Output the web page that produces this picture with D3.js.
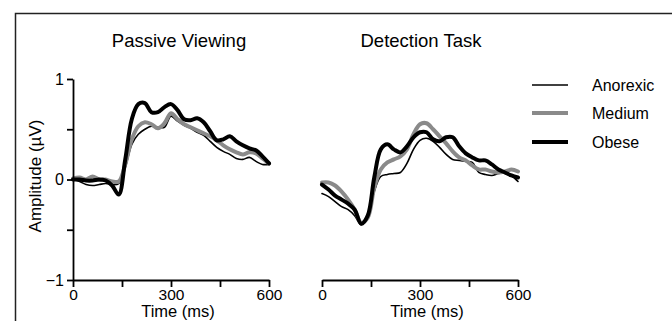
<!DOCTYPE html>
<html>
<head>
<meta charset="utf-8">
<script src="https://cdn.jsdelivr.net/npm/d3@7"></script>
<style>
  body { margin: 0; background: #fff; }
  svg { display: block; font-family: "Liberation Sans", Arial, sans-serif; }
</style>
</head>
<body>
<svg id="chart" width="672" height="321"></svg>
<script>
// time points (ms), shared by all traces
const times = [0, 20, 40, 60, 80, 100, 120, 140, 160, 180, 200, 220, 240, 260, 280, 300,
               320, 340, 360, 380, 400, 420, 440, 460, 480, 500, 520, 540, 560, 580, 600];

// Passive Viewing
const passiveAnorexic = [0, -0.02, -0.05, -0.06, -0.05, -0.04, -0.05, -0.04, 0.12, 0.35, 0.45, 0.5, 0.53, 0.52, 0.52, 0.63,
                         0.58, 0.54, 0.51, 0.47, 0.44, 0.38, 0.32, 0.28, 0.25, 0.21, 0.2, 0.22, 0.18, 0.15, 0.15];
const passiveMedium = [0.01, 0.02, 0, 0.03, 0, 0, -0.02, -0.02, 0.15, 0.4, 0.53, 0.57, 0.55, 0.51, 0.56, 0.66,
                       0.6, 0.55, 0.52, 0.49, 0.46, 0.43, 0.39, 0.34, 0.3, 0.27, 0.25, 0.27, 0.26, 0.21, 0.16];
const passiveObese = [0, 0, -0.01, -0.01, 0, -0.01, -0.06, -0.15, 0.2, 0.6, 0.75, 0.76, 0.67, 0.67, 0.72, 0.75,
                      0.69, 0.6, 0.59, 0.61, 0.57, 0.48, 0.39, 0.4, 0.43, 0.38, 0.34, 0.31, 0.29, 0.23, 0.16];

// Detection Task
const detectAnorexic = [-0.14, -0.17, -0.22, -0.27, -0.3, -0.36, -0.45, -0.38, -0.12, 0.03, 0.05, 0.06, 0.07, 0.16, 0.3, 0.39,
                        0.41, 0.38, 0.32, 0.25, 0.2, 0.19, 0.18, 0.17, 0.07, 0.05, 0.04, 0.06, 0.07, 0.04, -0.02];
const detectMedium = [-0.03, -0.03, -0.06, -0.12, -0.2, -0.3, -0.43, -0.38, -0.08, 0.1, 0.17, 0.2, 0.23, 0.3, 0.45, 0.55,
                      0.56, 0.5, 0.43, 0.36, 0.28, 0.22, 0.19, 0.14, 0.1, 0.1, 0.08, 0.07, 0.08, 0.1, 0.08];
const detectObese = [-0.05, -0.1, -0.16, -0.2, -0.24, -0.3, -0.44, -0.36, 0.02, 0.3, 0.35, 0.3, 0.27, 0.33, 0.42, 0.47,
                     0.47, 0.4, 0.38, 0.42, 0.42, 0.33, 0.26, 0.22, 0.19, 0.19, 0.15, 0.1, 0.07, 0.04, 0.02];

const groups = ["Anorexic", "Medium", "Obese"];
const xTicks = [0, 150, 300, 450, 600];
const yTicks = [-1, -0.5, 0, 0.5, 1];

const style = {
  Anorexic: { color: "#000", width: 1.6 },
  Medium: { color: "#8a8a8a", width: 4 },
  Obese: { color: "#000", width: 4 }
};

const panels = [
  { title: "Passive Viewing", x0: 73, series: [passiveAnorexic, passiveMedium, passiveObese], yAxis: true, titleX: 179 },
  { title: "Detection Task", x0: 322, series: [detectAnorexic, detectMedium, detectObese], yAxis: false, titleX: 421 }
];

const svg = d3.select("#chart");

// frame
svg.append("path")
  .attr("d", "M15.5,321V13.5H672")
  .attr("fill", "none")
  .attr("stroke", "#222")
  .attr("stroke-width", 1.5);

const y = d3.scaleLinear().domain([-1, 1]).range([280, 79]);

panels.forEach(p => {
  const x = d3.scaleLinear().domain([0, 600]).range([p.x0, p.x0 + 196]);
  const g = svg.append("g");

  const line = d3.line()
    .x((d, i) => x(times[i]))
    .y(d => y(d))
    .curve(d3.curveCatmullRom.alpha(0.5));

  p.series.forEach((vals, k) => {
    const s = style[groups[k]];
    g.append("path")
      .datum(vals)
      .attr("d", line)
      .attr("fill", "none")
      .attr("stroke", s.color)
      .attr("stroke-width", s.width)
      .attr("stroke-linejoin", "round")
      .attr("stroke-linecap", "round");
  });

  const xAxis = g.append("g")
    .attr("transform", "translate(0,280)")
    .call(d3.axisBottom(x).tickValues(xTicks).tickSize(7).tickSizeOuter(0).tickPadding(2)
      .tickFormat(d => d % 300 === 0 ? d : ""));
  xAxis.selectAll("text").attr("font-size", 15.5).attr("fill", "#000").attr("font-family", null);
  xAxis.selectAll("line,path").attr("stroke", "#000").attr("stroke-width", 1.8);

  g.append("text")
    .attr("x", x(300) + 7)
    .attr("y", 317)
    .attr("text-anchor", "middle")
    .attr("font-size", 16.5)
    .text("Time (ms)");

  if (p.yAxis) {
    const yAxis = g.append("g")
      .attr("transform", `translate(${p.x0},0)`)
      .call(d3.axisLeft(y).tickValues(yTicks).tickSize(6).tickSizeOuter(0).tickPadding(3)
        .tickFormat(d => Number.isInteger(d) ? (d < 0 ? "\u2212" + Math.abs(d) : d) : ""));
    yAxis.selectAll("text").attr("font-size", 16).attr("fill", "#000").attr("font-family", null);
    yAxis.selectAll("line,path").attr("stroke", "#000").attr("stroke-width", 1.8);

    g.append("text")
      .attr("transform", "translate(41,176) rotate(-90)")
      .attr("text-anchor", "middle")
      .attr("font-size", 17)
      .text("Amplitude (\u00b5V)");
  }

  g.append("text")
    .attr("x", p.titleX)
    .attr("y", 47)
    .attr("text-anchor", "middle")
    .attr("font-size", 18.5)
    .text(p.title);
});

// legend
const legend = svg.append("g");
const legendY = [85, 113, 142];
groups.forEach((name, i) => {
  const s = style[name];
  legend.append("line")
    .attr("x1", 532).attr("x2", 568)
    .attr("y1", legendY[i]).attr("y2", legendY[i])
    .attr("stroke", s.color)
    .attr("stroke-width", s.width);
  legend.append("text")
    .attr("x", 592)
    .attr("y", legendY[i] + 6)
    .attr("font-size", 16)
    .text(name);
});
</script>
</body>
</html>
